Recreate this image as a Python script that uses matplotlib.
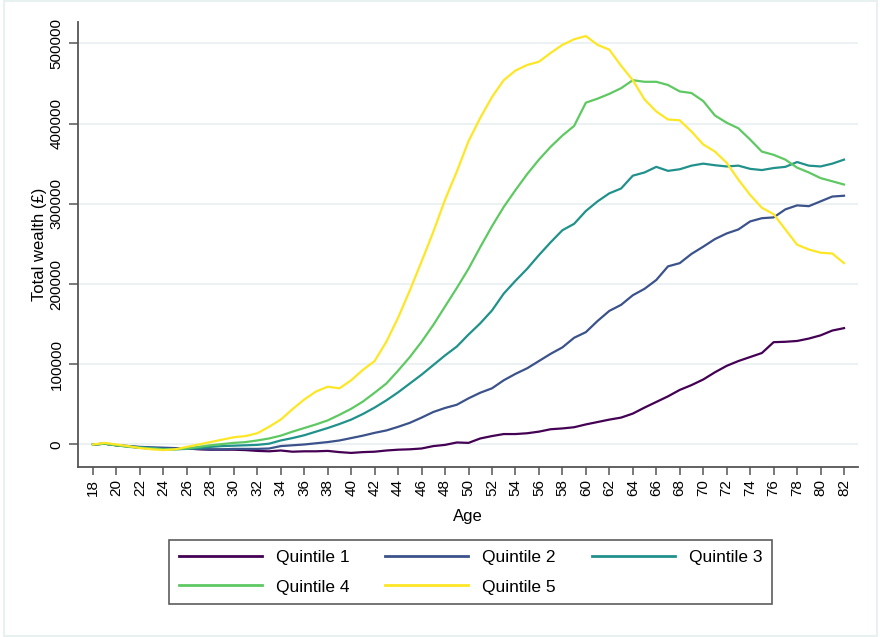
import matplotlib
matplotlib.use("Agg")
import matplotlib.pyplot as plt
from matplotlib.patches import Rectangle

plt.rcParams['font.family'] = ['Liberation Sans', 'DejaVu Sans']

# Idades
ages = list(range(18, 83))

# Riqueza total por quintil
q1 = [0, 1000, -1000, -2500, -4000, -5000, -6000, -5500, -5000, -6000,
      -6500, -6500, -6500, -7000, -8000, -8500, -7500, -9000, -8500, -8500,
      -8000, -9500, -10500, -9500, -9000, -7500, -6500, -6000, -5000, -2000,
      -500, 2500, 2000, 7500, 10500, 13000, 13000, 14000, 16000, 19000,
      20000, 21500, 25000, 28000, 31000, 33500, 38500, 46000, 53000, 60000,
      68000, 74000, 81000, 90000, 98000, 104000, 109000, 114000, 127500, 128000,
      129000, 132000, 136000, 142000, 145000]
q2 = [0, 1000, -1000, -2000, -3000, -3500, -4000, -4500, -5000, -5500,
      -6000, -6000, -5500, -5500, -5500, -5000, -2000, -1000, 0, 1500,
      3000, 5000, 8000, 11000, 14500, 17500, 22000, 27000, 33500, 40500,
      45500, 49500, 57500, 64500, 70000, 80000, 88000, 95000, 104000, 113000,
      121000, 133000, 140000, 154000, 166500, 174000, 186000, 194000, 205000, 222000,
      226000, 237500, 246500, 256000, 263000, 268000, 278000, 282000, 283000, 293000,
      298000, 297000, 303000, 309000, 310000]
q3 = [0, 1000, -1000, -2000, -3500, -4500, -5500, -6000, -5500, -4500,
      -3000, -2000, -1500, -1000, -500, 1000, 5000, 8000, 11500, 16000,
      20500, 25500, 31000, 38000, 46000, 55000, 65000, 76000, 87000, 99000,
      111000, 122000, 137000, 151000, 167000, 188000, 204000, 219000, 236000, 252000,
      267000, 275000, 291000, 303000, 313000, 319000, 335000, 339000, 346000, 341000,
      343000, 347500, 350000, 348000, 346500, 347500, 343500, 342000, 344500, 346000,
      352000, 347500, 346500, 350000, 355000]
q4 = [0, 1000, -1000, -3000, -4000, -5000, -6000, -6000, -5000, -3000,
      -1000, 500, 2000, 3000, 5000, 7500, 11000, 16000, 20500, 25000,
      30000, 37000, 44500, 53500, 64500, 76000, 92000, 109000, 128000, 149000,
      172000, 195000, 219000, 246000, 272000, 296000, 317000, 337000, 355000, 371000,
      385000, 397000, 426000, 431000, 437000, 444000, 454000, 452000, 452000, 448000,
      440000, 438000, 428000, 410000, 401000, 394000, 380000, 365000, 361000, 355000,
      345000, 339000, 332000, 328000, 324000]
q5 = [0, 2000, 0, -2000, -4500, -6000, -7000, -6000, -3000, 0,
      3000, 6000, 9000, 10500, 14000, 22000, 31000, 44000, 56000, 66000,
      72000, 70000, 80000, 93000, 104000, 128000, 158000, 192000, 228000, 265000,
      305000, 340000, 378000, 407000, 433000, 454000, 466000, 473000, 477000, 488000,
      498000, 505000, 509000, 498000, 492000, 472000, 454000, 430000, 415000, 405000,
      404000, 390000, 374000, 365000, 351000, 330000, 311000, 295000, 287000, 268000,
      249000, 243000, 239000, 238000, 226000]

series = [q1, q2, q3, q4, q5]
labels = ["Quintile 1", "Quintile 2", "Quintile 3", "Quintile 4", "Quintile 5"]
cores = ["#440154", "#3b528b", "#21918c", "#5ec962", "#fde725"]

fig = plt.figure(figsize=(8.8, 6.37), dpi=100)
fig.patches.append(Rectangle((0.004, 0.002), 0.993, 0.996, transform=fig.transFigure,
                             fill=False, edgecolor="#e9f0f0", linewidth=1.5))

ax = fig.add_axes([0.0886, 0.2669, 0.8864, 0.6986])

linhas = []
for y, lab, c in zip(series, labels, cores):
    l, = ax.plot(ages, y, color=c, linewidth=1.6, label=lab, zorder=3)
    linhas.append(l)

ax.set_xlim(16.72, 83.19)
ax.set_ylim(-28040, 526550)

ax.set_xticks(range(18, 83, 2))
ax.set_yticks(range(0, 500001, 100000))
ax.tick_params(axis="x", labelrotation=90, labelsize=11, length=6, width=1.1,
               color="#555555", pad=3)
ax.tick_params(axis="y", labelsize=11, length=6.5, width=1.1, color="#555555", pad=4)
for t in ax.get_yticklabels():
    t.set_rotation(90)
    t.set_va("center")

ax.grid(axis="y", color="#eaf0f3", linewidth=1.3, zorder=0)
ax.set_axisbelow(True)
for s in ["top", "right"]:
    ax.spines[s].set_visible(False)
for s in ["left", "bottom"]:
    ax.spines[s].set_color("#555555")
    ax.spines[s].set_linewidth(1.3)

ax.set_xlabel("Age", fontsize=12, labelpad=9)
ax.set_ylabel("Total wealth (£)", fontsize=12, labelpad=2)

# ordem para preencher a legenda por linhas (3 colunas)
ordem = [0, 3, 1, 4, 2]
leg = fig.legend([linhas[i] for i in ordem], [labels[i] for i in ordem],
                 loc="center", bbox_to_anchor=(470.5 / 880, 1 - 572 / 637), ncol=3,
                 fontsize=12.5, handlelength=4.8, handletextpad=0.8, columnspacing=2.05,
                 labelspacing=0.85, frameon=True, fancybox=False, borderpad=0.55)
leg.get_frame().set_edgecolor("#333333")
leg.get_frame().set_linewidth(1.2)
for h in leg.get_lines():
    h.set_linewidth(2)

fig.savefig("out.png", dpi=100)
